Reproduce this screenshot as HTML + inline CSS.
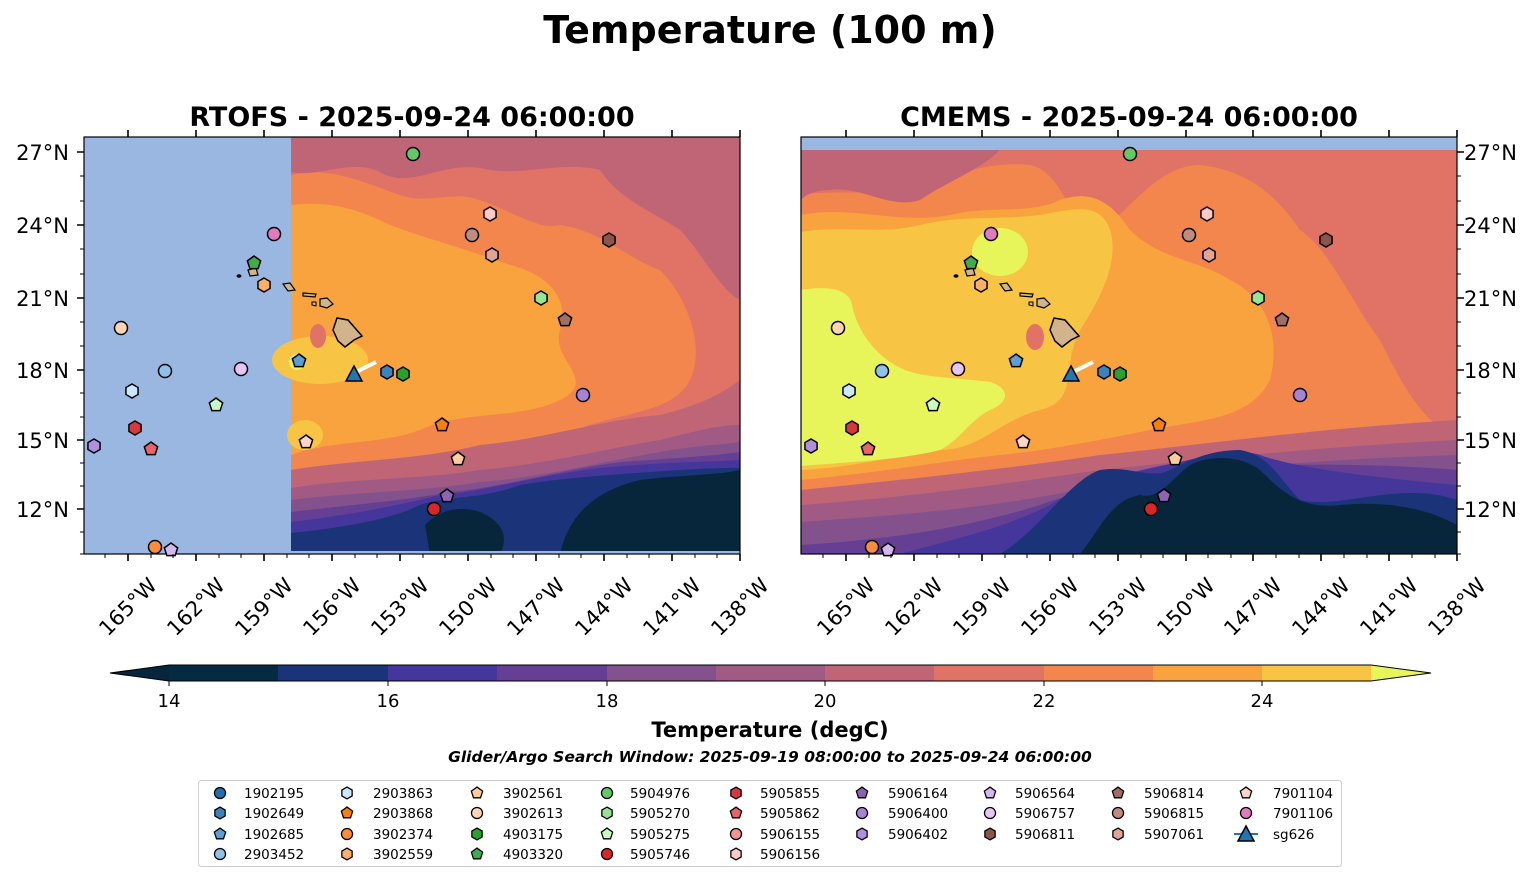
<!DOCTYPE html>
<html><head><meta charset="utf-8"><style>
html,body{margin:0;padding:0;background:#fff;}
svg{display:block;font-family:"DejaVu Sans","Liberation Sans",sans-serif;}
</style></head><body>
<svg width="1540" height="889" viewBox="0 0 1540 889" xmlns="http://www.w3.org/2000/svg">
<defs>
<g id="c"><circle cx="0" cy="0" r="6.5" stroke="#000" stroke-width="1.5"/></g>
<g id="h"><polygon points="0,-7 6.06,-3.5 6.06,3.5 0,7 -6.06,3.5 -6.06,-3.5" stroke="#000" stroke-width="1.5"/></g>
<g id="p"><polygon points="0,-7 6.66,-2.16 4.11,5.66 -4.11,5.66 -6.66,-2.16" stroke="#000" stroke-width="1.5"/></g>
<g id="t"><polygon points="0,-9 8,6 -8,6" stroke="#000" stroke-width="1.5"/></g>
<clipPath id="cl"><rect x="84" y="137" width="656" height="417"/></clipPath>
<clipPath id="cr"><rect x="801" y="137" width="656" height="417"/></clipPath>
<g id="isl">
<path d="M337,318 L348,320 L355,328 L362,336 L354,340 L345,347 L338,341 L333,330 Z" fill="#d2b48c" stroke="#000" stroke-width="1.5"/>
<path d="M320,299 L327,298 L333,304 L327,308 L320,306 Z" fill="#d2b48c" stroke="#000" stroke-width="1.2"/>
<path d="M303,293 L316,294 L315,297 L303,296 Z" fill="#d2b48c" stroke="#000" stroke-width="1.2"/>
<path d="M312,302 L316,302 L316,306 L312,305 Z" fill="#d2b48c" stroke="#000" stroke-width="1"/>
<path d="M283,284 L290,283 L295,290 L288,291 Z" fill="#d2b48c" stroke="#000" stroke-width="1.2"/>
<path d="M248,270 L256,268 L258,275 L250,276 Z" fill="#d2b48c" stroke="#000" stroke-width="1.2"/>
<ellipse cx="239" cy="276" rx="2.5" ry="1.8" fill="#000"/>
</g>
</defs>

<text x="770" y="43" font-size="38" font-weight="bold" text-anchor="middle">Temperature (100 m)</text>
<text x="412" y="126" font-size="27" font-weight="bold" text-anchor="middle">RTOFS - 2025-09-24 06:00:00</text>
<text x="1129" y="126" font-size="27" font-weight="bold" text-anchor="middle">CMEMS - 2025-09-24 06:00:00</text>

<!-- LEFT PANEL -->
<g clip-path="url(#cl)">
<rect x="84" y="137" width="656" height="417" fill="#99b7e0"/>
<rect x="291" y="137" width="449" height="415" fill="#e07266"/>
<path d="M291,175 C330,165 370,185 400,195 C430,205 450,190 480,200 C520,215 540,230 560,225 C600,230 630,260 660,270 C690,300 705,350 690,380 C670,420 600,410 560,440 C520,460 480,470 430,470 C380,475 330,470 291,480 Z" fill="#f2864c"/>
<path d="M291,205 C330,200 360,210 390,225 C430,240 470,250 510,265 C550,275 570,300 560,330 C550,360 600,380 560,400 C520,420 460,410 420,430 C380,445 330,440 291,455 Z" fill="#f9a33f"/>
<ellipse cx="320" cy="360" rx="48" ry="24" fill="#f7c543"/>
<ellipse cx="305" cy="435" rx="18" ry="15" fill="#f7c543"/>
<ellipse cx="297" cy="362" rx="8" ry="8" fill="#e8f55a"/>
<ellipse cx="318" cy="336" rx="8" ry="12" fill="#e07266"/>
<path d="M291,137 L740,137 L740,300 C720,290 700,250 680,230 C650,210 620,200 600,170 C560,160 520,178 480,168 C440,162 410,190 380,172 C350,158 320,178 291,172 Z" fill="#bf6576"/>
<path d="M291,470 C350,460 420,460 480,445 C540,440 600,420 660,415 C700,405 720,395 740,380 L740,554 L291,554 Z" fill="#bf6576"/>
<path d="M291,488 C350,478 420,480 480,470 C540,465 600,450 660,440 C700,430 720,425 740,425 L740,554 L291,554 Z" fill="#a05a84"/>
<path d="M291,500 C350,492 420,492 480,482 C540,478 600,462 660,452 C700,445 720,445 740,442 L740,554 L291,554 Z" fill="#83528c"/>
<path d="M291,512 C350,505 410,500 450,492 C500,488 560,470 620,462 C680,458 720,455 740,452 L740,554 L291,554 Z" fill="#653f93"/>
<path d="M291,522 C350,515 400,505 440,495 C480,492 540,475 600,468 C660,462 710,462 740,460 L740,554 L291,554 Z" fill="#44369a"/>
<path d="M291,533 C340,528 390,520 420,505 C450,495 480,500 520,485 C560,478 620,474 680,470 C710,468 730,468 740,468 L740,554 L291,554 Z" fill="#1a3379"/>
<path d="M560,554 C570,510 600,490 640,480 C680,475 720,475 740,470 L740,554 Z" fill="#07263c"/>
<path d="M425,525 C440,510 460,505 480,512 C500,520 510,535 500,554 L430,554 Z" fill="#07263c"/>
<rect x="291" y="551" width="449" height="3" fill="#99b7e0"/>
<path d="M358,371 L376,362" stroke="#fff" stroke-width="4"/>
<use href="#isl"/>
</g>
<rect x="84" y="137" width="656" height="417" fill="none" stroke="#000" stroke-width="1.2"/>

<!-- RIGHT PANEL -->
<g clip-path="url(#cr)">
<rect x="801" y="137" width="656" height="417" fill="#f2864c"/>
<path d="M801,150 L1457,150 L1457,440 C1420,420 1400,380 1380,340 C1350,300 1330,250 1300,230 C1280,200 1250,170 1200,165 C1150,165 1120,230 1090,230 C1070,220 1060,170 1030,165 C980,160 950,180 900,190 C860,195 830,190 801,195 Z" fill="#e07266"/>
<path d="M801,150 L1000,150 C980,170 950,180 920,200 C890,210 860,185 830,190 C815,190 805,195 801,200 Z" fill="#bf6576"/>
<path d="M801,215 C850,205 900,225 950,215 C990,205 1030,215 1060,200 C1090,190 1110,200 1130,230 C1160,260 1200,260 1230,280 C1270,300 1280,340 1270,380 C1250,420 1200,420 1150,430 C1100,440 1050,450 1000,455 C950,460 900,470 801,480 Z" fill="#f9a33f"/>
<path d="M801,232 C840,225 880,235 920,225 C960,215 1000,220 1040,215 C1070,210 1100,200 1110,230 C1120,260 1100,300 1080,330 C1060,370 1080,400 1040,410 C1000,420 980,450 940,450 C900,455 850,468 801,470 Z" fill="#f7c543"/>
<path d="M801,290 C830,285 850,290 852,305 C858,335 880,360 905,370 C925,378 960,378 990,382 C1010,388 1010,402 990,410 C970,420 960,440 940,450 C900,460 850,462 801,466 Z" fill="#e8f55a"/>
<ellipse cx="1000" cy="252" rx="28" ry="24" fill="#e8f55a"/>
<ellipse cx="1035" cy="337" rx="9" ry="13" fill="#e07266"/>
<path d="M801,490 C900,480 1000,470 1100,455 C1200,445 1300,430 1457,420 L1457,554 L801,554Z" fill="#bf6576"/>
<path d="M801,505 C900,498 1000,485 1100,470 C1200,460 1300,448 1457,440 L1457,554 L801,554Z" fill="#a05a84"/>
<path d="M801,522 C900,515 1000,508 1100,485 C1200,470 1300,460 1457,455 L1457,554 L801,554Z" fill="#83528c"/>
<path d="M801,545 C880,540 960,530 1040,505 C1080,490 1150,475 1200,468 C1300,462 1400,465 1457,470 L1457,554 L801,554Z" fill="#653f93"/>
<path d="M900,554 C950,540 1000,530 1050,505 C1090,480 1140,470 1180,462 C1210,455 1240,448 1260,455 C1300,470 1400,480 1457,485 L1457,554 Z" fill="#44369a"/>
<path d="M1000,554 C1040,530 1070,480 1100,470 C1130,465 1150,480 1170,470 C1190,460 1210,450 1240,450 C1270,455 1280,480 1300,500 C1340,510 1400,480 1457,500 L1457,554Z" fill="#1a3379"/>
<path d="M1080,554 C1100,530 1110,500 1140,495 C1160,500 1170,480 1190,465 C1210,455 1240,455 1260,470 C1280,490 1300,510 1340,505 C1390,500 1430,510 1457,525 L1457,554Z" fill="#07263c"/>
<rect x="801" y="137" width="656" height="13" fill="#99b7e0"/>
<path d="M1075,371 L1093,362" stroke="#fff" stroke-width="4"/>
<use href="#isl" transform="translate(717,0)"/>
</g>
<rect x="801" y="137" width="656" height="417" fill="none" stroke="#000" stroke-width="1.2"/>

<!-- markers -->
<g id="mk">
<use href="#c" x="121" y="328" fill="#fdd5b4"/>
<use href="#c" x="165" y="371" fill="#8fc2e8"/>
<use href="#h" x="132" y="391" fill="#cce6fb"/>
<use href="#h" x="135" y="428" fill="#d6383f"/>
<use href="#p" x="151" y="449" fill="#e8636a"/>
<use href="#h" x="94" y="446" fill="#b08ee0"/>
<use href="#c" x="155" y="547" fill="#fd8d3c"/>
<use href="#p" x="171" y="550" fill="#d5b7f0"/>
<use href="#p" x="216" y="405" fill="#c7fcc3"/>
<use href="#c" x="241" y="369" fill="#e6c5f5"/>
<use href="#c" x="274" y="234" fill="#e17bc0"/>
<use href="#p" x="254" y="263" fill="#41ab4f"/>
<use href="#h" x="264" y="285" fill="#fdae6b"/>
<use href="#p" x="299" y="361" fill="#5aa0d4"/>
<use href="#p" x="306" y="442" fill="#fcd5c8"/>
<use href="#c" x="413" y="154" fill="#66c766"/>
<use href="#h" x="490" y="214" fill="#fcc9c9"/>
<use href="#c" x="472" y="235" fill="#c08c80"/>
<use href="#h" x="492" y="255" fill="#e0a596"/>
<use href="#h" x="541" y="298" fill="#95e595"/>
<use href="#p" x="565" y="320" fill="#a16e62"/>
<use href="#h" x="609" y="240" fill="#8c5548"/>
<use href="#c" x="583" y="395" fill="#a882d4"/>
<use href="#p" x="442" y="425" fill="#f77f0e"/>
<use href="#p" x="458" y="459" fill="#fdcd9e"/>
<use href="#p" x="447" y="496" fill="#8e63b4"/>
<use href="#c" x="434" y="509" fill="#d62728"/>
<use href="#h" x="387" y="372" fill="#3b83bd"/>
<use href="#h" x="403" y="374" fill="#2ca02c"/>
<use href="#t" x="354" y="375" fill="#1f77b4"/>
</g>
<use href="#mk" transform="translate(717,0)"/>

<!-- ticks -->
<g stroke="#000" stroke-width="1.6">
<path d="M128,554v7M196,554v7M264,554v7M332,554v7M400,554v7M468,554v7M536,554v7M604,554v7M672,554v7M740,554v7
M128,137v-7M196,137v-7M264,137v-7M332,137v-7M400,137v-7M468,137v-7M536,137v-7M604,137v-7M672,137v-7M740,137v-7
M846,554v7M914,554v7M982,554v7M1050,554v7M1118,554v7M1186,554v7M1253,554v7M1321,554v7M1389,554v7M1457,554v7
M846,137v-7M914,137v-7M982,137v-7M1050,137v-7M1118,137v-7M1186,137v-7M1253,137v-7M1321,137v-7M1389,137v-7M1457,137v-7
M84,152h-7M84,225h-7M84,298h-7M84,370h-7M84,440h-7M84,509h-7
M1457,152h7M1457,225h7M1457,298h7M1457,370h7M1457,440h7M1457,509h7"/>
</g>
<g stroke="#000" stroke-width="1">
<path d="M105,554v4M151,554v4M173,554v4M219,554v4M241,554v4M287,554v4M309,554v4M355,554v4M377,554v4M423,554v4M445,554v4M491,554v4M513,554v4M559,554v4M581,554v4M627,554v4M649,554v4M695,554v4M717,554v4
M823,554v4M869,554v4M891,554v4M937,554v4M959,554v4M1005,554v4M1027,554v4M1073,554v4M1095,554v4M1141,554v4M1163,554v4M1208,554v4M1231,554v4M1276,554v4M1299,554v4M1344,554v4M1367,554v4M1412,554v4M1435,554v4
M84,176h-4M84,201h-4M84,249h-4M84,274h-4M84,322h-4M84,346h-4M84,393h-4M84,417h-4M84,463h-4M84,486h-4M84,532h-4M84,554h-4
M1457,176h4M1457,201h4M1457,249h4M1457,274h4M1457,322h4M1457,346h4M1457,393h4M1457,417h4M1457,463h4M1457,486h4M1457,532h4M1457,554h4"/>
</g>

<g font-size="21" text-anchor="end">
<text x="69" y="160">27°N</text><text x="69" y="233">24°N</text><text x="69" y="306">21°N</text><text x="69" y="378">18°N</text><text x="69" y="448">15°N</text><text x="69" y="517">12°N</text>
</g>
<g font-size="21" text-anchor="start">
<text x="1464" y="160">27°N</text><text x="1464" y="233">24°N</text><text x="1464" y="306">21°N</text><text x="1464" y="378">18°N</text><text x="1464" y="448">15°N</text><text x="1464" y="517">12°N</text>
</g>
<g font-size="21" text-anchor="middle">
<text transform="translate(128,607) rotate(-45)" dy="7">165°W</text>
<text transform="translate(196,607) rotate(-45)" dy="7">162°W</text>
<text transform="translate(264,607) rotate(-45)" dy="7">159°W</text>
<text transform="translate(332,607) rotate(-45)" dy="7">156°W</text>
<text transform="translate(400,607) rotate(-45)" dy="7">153°W</text>
<text transform="translate(468,607) rotate(-45)" dy="7">150°W</text>
<text transform="translate(536,607) rotate(-45)" dy="7">147°W</text>
<text transform="translate(604,607) rotate(-45)" dy="7">144°W</text>
<text transform="translate(672,607) rotate(-45)" dy="7">141°W</text>
<text transform="translate(740,607) rotate(-45)" dy="7">138°W</text>
<text transform="translate(846,607) rotate(-45)" dy="7">165°W</text>
<text transform="translate(914,607) rotate(-45)" dy="7">162°W</text>
<text transform="translate(982,607) rotate(-45)" dy="7">159°W</text>
<text transform="translate(1050,607) rotate(-45)" dy="7">156°W</text>
<text transform="translate(1118,607) rotate(-45)" dy="7">153°W</text>
<text transform="translate(1186,607) rotate(-45)" dy="7">150°W</text>
<text transform="translate(1253,607) rotate(-45)" dy="7">147°W</text>
<text transform="translate(1321,607) rotate(-45)" dy="7">144°W</text>
<text transform="translate(1389,607) rotate(-45)" dy="7">141°W</text>
<text transform="translate(1457,607) rotate(-45)" dy="7">138°W</text>
</g>

<!-- colorbar -->
<polygon points="110,673 169,665 169,681" fill="#05263c"/>
<rect x="169" y="665" width="110" height="16" fill="#072a43"/>
<rect x="278" y="665" width="110" height="16" fill="#1a3379"/>
<rect x="388" y="665" width="110" height="16" fill="#44369a"/>
<rect x="497" y="665" width="110" height="16" fill="#653f93"/>
<rect x="607" y="665" width="110" height="16" fill="#83528c"/>
<rect x="716" y="665" width="110" height="16" fill="#a05a84"/>
<rect x="825" y="665" width="110" height="16" fill="#bf6576"/>
<rect x="934" y="665" width="110" height="16" fill="#e07266"/>
<rect x="1044" y="665" width="110" height="16" fill="#f2864c"/>
<rect x="1153" y="665" width="110" height="16" fill="#f9a33f"/>
<rect x="1262" y="665" width="109" height="16" fill="#f7c543"/>
<polygon points="1371,665 1431,673 1371,681" fill="#e8f55a"/>
<polygon points="110,673 169,665 1371,665 1431,673 1371,681 169,681" fill="none" stroke="#000" stroke-width="1"/>
<g stroke="#000" stroke-width="1"><path d="M169,681v5M388,681v5M607,681v5M825,681v5M1044,681v5M1262,681v5"/></g>
<g font-size="18" text-anchor="middle">
<text x="169" y="707">14</text><text x="388" y="707">16</text><text x="607" y="707">18</text><text x="825" y="707">20</text><text x="1044" y="707">22</text><text x="1262" y="707">24</text>
</g>
<text x="770" y="737" font-size="21" font-weight="bold" text-anchor="middle">Temperature (degC)</text>
<text x="770" y="762" font-size="15.5" font-weight="bold" font-style="italic" text-anchor="middle">Glider/Argo Search Window: 2025-09-19 08:00:00 to 2025-09-24 06:00:00</text>

<!-- legend -->
<rect x="198.5" y="780.5" width="1143" height="86" rx="3" fill="#fff" stroke="#ccc" stroke-width="1"/>
<g font-size="13.5">
<g transform="translate(220,793) scale(0.85)"><use href="#c" fill="#1f6fb0"/></g><text x="244" y="798">1902195</text>
<g transform="translate(220,813) scale(0.85)"><use href="#h" fill="#3b83bd"/></g><text x="244" y="818">1902649</text>
<g transform="translate(220,834) scale(0.85)"><use href="#p" fill="#5aa0d4"/></g><text x="244" y="839">1902685</text>
<g transform="translate(220,854) scale(0.85)"><use href="#c" fill="#8fc2e8"/></g><text x="244" y="859">2903452</text>

<g transform="translate(347,793) scale(0.85)"><use href="#h" fill="#cce6fb"/></g><text x="373" y="798">2903863</text>
<g transform="translate(347,813) scale(0.85)"><use href="#p" fill="#f77f0e"/></g><text x="373" y="818">2903868</text>
<g transform="translate(347,834) scale(0.85)"><use href="#c" fill="#fd8d3c"/></g><text x="373" y="839">3902374</text>
<g transform="translate(347,854) scale(0.85)"><use href="#h" fill="#fdae6b"/></g><text x="373" y="859">3902559</text>

<g transform="translate(477,793) scale(0.85)"><use href="#p" fill="#fdcd9e"/></g><text x="503" y="798">3902561</text>
<g transform="translate(477,813) scale(0.85)"><use href="#c" fill="#fdd5b4"/></g><text x="503" y="818">3902613</text>
<g transform="translate(477,834) scale(0.85)"><use href="#h" fill="#2ca02c"/></g><text x="503" y="839">4903175</text>
<g transform="translate(477,854) scale(0.85)"><use href="#p" fill="#41ab4f"/></g><text x="503" y="859">4903320</text>

<g transform="translate(607,793) scale(0.85)"><use href="#c" fill="#66c766"/></g><text x="630" y="798">5904976</text>
<g transform="translate(607,813) scale(0.85)"><use href="#h" fill="#95e595"/></g><text x="630" y="818">5905270</text>
<g transform="translate(607,834) scale(0.85)"><use href="#p" fill="#c7fcc3"/></g><text x="630" y="839">5905275</text>
<g transform="translate(607,854) scale(0.85)"><use href="#c" fill="#d62728"/></g><text x="630" y="859">5905746</text>

<g transform="translate(736,793) scale(0.85)"><use href="#h" fill="#d6383f"/></g><text x="760" y="798">5905855</text>
<g transform="translate(736,813) scale(0.85)"><use href="#p" fill="#e8636a"/></g><text x="760" y="818">5905862</text>
<g transform="translate(736,834) scale(0.85)"><use href="#c" fill="#f09595"/></g><text x="760" y="839">5906155</text>
<g transform="translate(736,854) scale(0.85)"><use href="#h" fill="#fcc9c9"/></g><text x="760" y="859">5906156</text>

<g transform="translate(862,793) scale(0.85)"><use href="#p" fill="#8e63b4"/></g><text x="888" y="798">5906164</text>
<g transform="translate(862,813) scale(0.85)"><use href="#c" fill="#a882d4"/></g><text x="888" y="818">5906400</text>
<g transform="translate(862,834) scale(0.85)"><use href="#h" fill="#b08ee0"/></g><text x="888" y="839">5906402</text>

<g transform="translate(990,793) scale(0.85)"><use href="#p" fill="#d5b7f0"/></g><text x="1015" y="798">5906564</text>
<g transform="translate(990,813) scale(0.85)"><use href="#c" fill="#e6c5f5"/></g><text x="1015" y="818">5906757</text>
<g transform="translate(990,834) scale(0.85)"><use href="#h" fill="#8c5548"/></g><text x="1015" y="839">5906811</text>

<g transform="translate(1118,793) scale(0.85)"><use href="#p" fill="#a16e62"/></g><text x="1144" y="798">5906814</text>
<g transform="translate(1118,813) scale(0.85)"><use href="#c" fill="#c08c80"/></g><text x="1144" y="818">5906815</text>
<g transform="translate(1118,834) scale(0.85)"><use href="#h" fill="#e0a596"/></g><text x="1144" y="839">5907061</text>

<g transform="translate(1246,793) scale(0.85)"><use href="#p" fill="#fcd5c8"/></g><text x="1273" y="798">7901104</text>
<g transform="translate(1246,813) scale(0.85)"><use href="#c" fill="#e17bc0"/></g><text x="1273" y="818">7901106</text>
<path d="M1234,834 H1258" stroke="#1f77b4" stroke-width="2"/>
<use href="#t" x="1246" y="835" fill="#1f77b4"/><text x="1273" y="839">sg626</text>
</g>
</svg>
</body></html>
